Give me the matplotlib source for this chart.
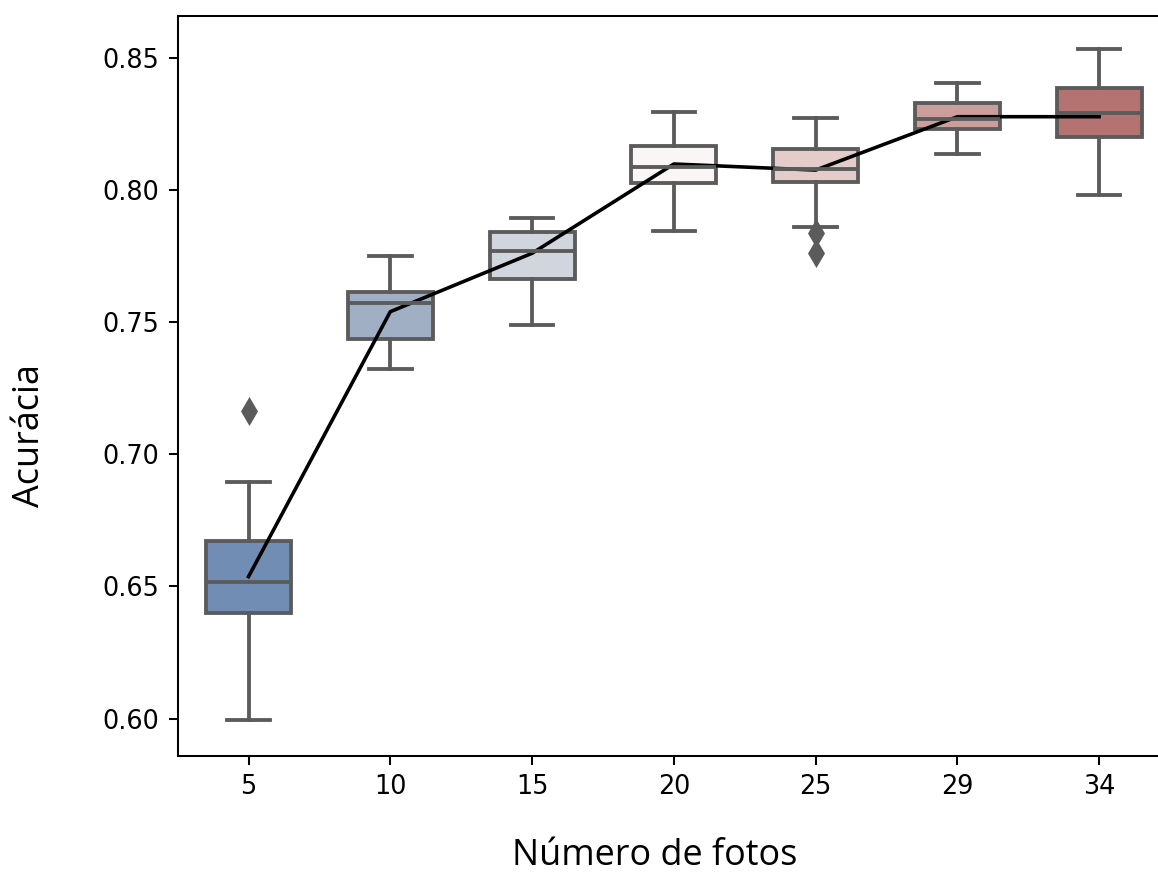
import numpy as np
import matplotlib
matplotlib.use("Agg")
import matplotlib.pyplot as plt
import seaborn as sns

# numero de fotos (categorias) e estatisticas
fotos = ["5", "10", "15", "20", "25", "29", "34"]
whislo = [0.5996, 0.7323, 0.7490, 0.7846, 0.7860, 0.8137, 0.7982]
q1 = [0.6401, 0.7437, 0.7664, 0.8026, 0.8032, 0.8231, 0.8200]
med = [0.6518, 0.7572, 0.7771, 0.8089, 0.8080, 0.8270, 0.8291]
q3 = [0.6673, 0.7616, 0.7843, 0.8168, 0.8156, 0.8329, 0.8388]
whishi = [0.6896, 0.7752, 0.7896, 0.8297, 0.8273, 0.8404, 0.8533]
fliers = [[0.7165], [], [], [], [0.7837, 0.7761], [], []]
medias = [0.6537, 0.7540, 0.7761, 0.8099, 0.8076, 0.8278, 0.8278]

dpi = 184
fig = plt.figure(figsize=(1158 / dpi, 873 / dpi), dpi=dpi)
ax = fig.add_axes([0.1534, 0.134, 0.8570, 0.8473])

stats = []
for i in range(len(fotos)):
    stats.append(dict(med=med[i], q1=q1[i], q3=q3[i],
                      whislo=whislo[i], whishi=whishi[i],
                      fliers=fliers[i], label=fotos[i]))

pos = np.arange(len(fotos))
cor_linha = "#5b5b5b"
bp = ax.bxp(stats, positions=pos, widths=0.6, patch_artist=True,
            showfliers=True,
            boxprops=dict(edgecolor=cor_linha, linewidth=1.5),
            medianprops=dict(color=cor_linha, linewidth=1.5),
            whiskerprops=dict(color=cor_linha, linewidth=1.5),
            capprops=dict(color=cor_linha, linewidth=1.5),
            flierprops=dict(marker="d", markerfacecolor=cor_linha,
                            markeredgecolor=cor_linha, markersize=6.5))

cores = sns.color_palette("vlag", len(fotos))
for caixa, c in zip(bp["boxes"], cores):
    caixa.set_facecolor(sns.desaturate(c, 0.75))

# linha das medias
ax.plot(pos, medias, color="black", linewidth=1.4)

ax.set_xlim(-0.5, len(fotos) - 0.5)
ax.set_ylim(0.5858, 0.8658)
ax.set_xticks(pos)
ax.set_xticklabels(fotos)
ax.set_yticks([0.60, 0.65, 0.70, 0.75, 0.80, 0.85])
ax.set_yticklabels(["0.60", "0.65", "0.70", "0.75", "0.80", "0.85"])

fig.text(30 / 1158, 1 - 436 / 873, "Acurácia", rotation=90,
         ha="center", va="center", family="Open Sans", fontsize=14.1)
fig.text(655 / 1158, 1 - 856 / 873, "Número de fotos",
         ha="center", va="center", family="Open Sans", fontsize=14.1)

fig.savefig("out.png", dpi=dpi)
